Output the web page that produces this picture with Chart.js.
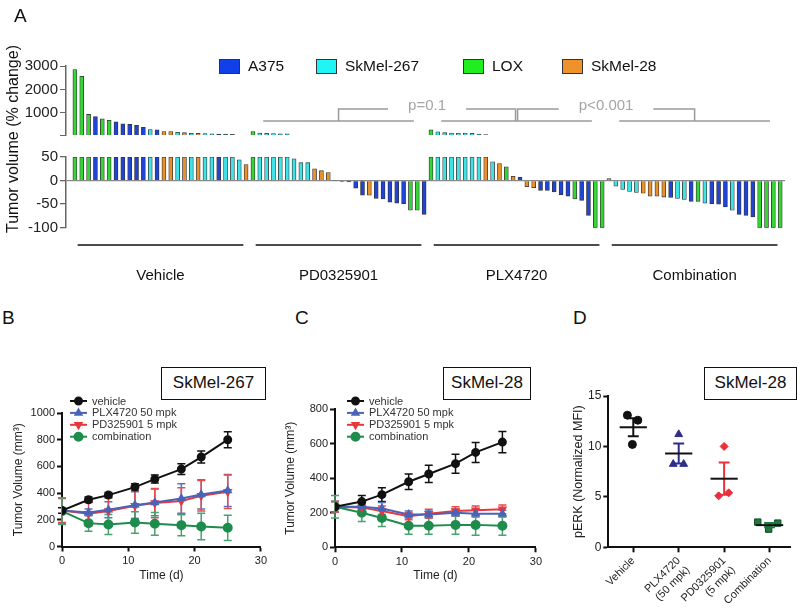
<!DOCTYPE html>
<html>
<head>
<meta charset="utf-8">
<script src="https://cdn.jsdelivr.net/npm/chart.js@4.4.0/dist/chart.umd.min.js"></script>
<style>
body { margin: 0; background: #fff; font-family: "Liberation Sans", Arial, sans-serif; color: #111; }
#wrap { position: relative; width: 800px; height: 613px; overflow: hidden; }
canvas { position: absolute; }
.letter { position: absolute; font-size: 19px; line-height: 19px; }
.box { position: absolute; border: 1.5px solid #111; box-sizing: border-box; font-size: 17px; text-align: center; line-height: 29px; height: 33px; background: #fff; }
.ytitle { position: absolute; transform: translate(-50%, -50%) rotate(-90deg); white-space: nowrap; font-size: 16px; }
.legA { position: absolute; top: 57px; font-size: 15.5px; display: flex; align-items: center; }
.legA span.sw { display: inline-block; width: 19px; height: 13px; border: 1px solid #333; margin-right: 8px; }
</style>
</head>
<body>
<div id="wrap">
  <canvas id="aTop" width="800" height="146" style="left:0;top:0"></canvas>
  <canvas id="aBot" width="800" height="154" style="left:0;top:146px"></canvas>
  <canvas id="b" width="270" height="233" style="left:0;top:380px"></canvas>
  <canvas id="c" width="280" height="233" style="left:265px;top:380px"></canvas>
  <canvas id="d" width="260" height="233" style="left:540px;top:380px"></canvas>

  <div class="letter" style="left:14px;top:6px">A</div>
  <div class="letter" style="left:2px;top:308px">B</div>
  <div class="letter" style="left:295px;top:308px">C</div>
  <div class="letter" style="left:573px;top:308px">D</div>
  <div class="ytitle" style="left:13px;top:139px">Tumor volume (% change)</div>
  <div id="legA"></div>
  <div class="box" style="left:161px;top:367px;width:105px">SkMel-267</div>
  <div class="box" style="left:443px;top:367px;width:88px">SkMel-28</div>
  <div class="box" style="left:704px;top:367px;width:93px">SkMel-28</div>
</div>
<script>
Chart.defaults.font.family = '"Liberation Sans", Arial, sans-serif';
Chart.defaults.color = '#111';
Chart.defaults.animation = false;

// ---- panel A: waterfall ----
const groups = ['Vehicle', 'PD0325901', 'PLX4720', 'Combination'];
const cellLines = ['A375', 'SkMel-267', 'LOX', 'SkMel-28'];
const cellColors = ['#1f44d6', '#3fe3e6', '#33d633', '#e8912c'];
const legendColors = ['#1240e8', '#20f4f4', '#20ee20', '#f0922a'];

// cell line of each tumour (index in cellLines)
const vehicleLine = [2,2,2,0,2,2,0,0,0,0,0,1,0,3,3,1,3,1,3,1,1,0,1,1,1,3];
const pdLine      = [2,1,1,1,1,1,1,1,1,3,3,3,1,0,0,0,0,3,0,0,0,0,0,2,2,0];
const plxLine     = [2,1,1,1,1,1,1,1,3,1,3,2,3,0,3,3,0,0,0,0,0,2,0,0,2,2];
const combLine    = [3,1,1,1,1,3,3,3,3,0,1,1,0,2,1,0,0,0,1,0,0,0,2,2,2,2];

// % change in tumour volume
const vehicleChange = [2850, 2560, 930, 840, 740, 680, 610, 530, 510, 460, 380, 280, 270, 200, 200, 165, 150, 125, 125, 115, 100, 90, 85, 80, 44, 34];
const pdChange      = [195, 130, 120, 110, 100, 100, 46, 38, 38, 25, 21, 17, 1, -2, -3, -16, -31, -31, -38, -39, -46, -48, -49, -63, -63, -72];
const plxChange     = [270, 190, 150, 130, 130, 130, 120, 90, 70, 40, 36, 29, 9, 7, -13, -15, -21, -21, -24, -30, -33, -39, -42, -74, -100, -100];
const combChange    = [4, -12, -19, -23, -25, -27, -33, -33, -35, -36, -38, -40, -44, -44, -48, -49, -50, -56, -63, -72, -74, -77, -100, -100, -100, -100];

const topTicks = [50, 1000, 2000, 3000];
const bottomTicks = [-100, -50, 0, 50];
const comparisons = [[1, 2, 'p=0.1'], [2, 3, 'p<0.001']];

// ---- panels B, C: growth curves ----
const days = [0, 4, 7, 11, 14, 18, 21, 25];
const treatments = ['vehicle', 'PLX4720 50 mpk', 'PD325901 5 mpk', 'combination'];

const vehicleB = [270, 350, 385, 445, 505, 580, 670, 800];
const vehicleBErr = [20, 20, 20, 25, 30, 40, 45, 60];
const plxB = [270, 255, 275, 310, 330, 360, 390, 420];
const plxBErr = [95, 25, 60, 100, 100, 110, 110, 120];
const pdB = [270, 245, 265, 305, 325, 340, 380, 410];
const pdBErr = [90, 90, 110, 110, 110, 100, 115, 125];
const combB = [265, 175, 165, 180, 170, 160, 150, 140];
const combBErr = [100, 60, 75, 80, 85, 80, 100, 95];

const vehicleC = [235, 265, 305, 380, 425, 485, 550, 610];
const vehicleCErr = [30, 35, 40, 45, 50, 55, 58, 62];
const plxC = [235, 235, 225, 190, 190, 200, 195, 195];
const plxCErr = [30, 25, 35, 20, 20, 20, 20, 20];
const pdC = [235, 230, 210, 180, 195, 210, 215, 220];
const pdCErr = [30, 30, 30, 20, 25, 25, 25, 25];
const combC = [235, 200, 170, 125, 125, 130, 130, 125];
const combCErr = [65, 50, 50, 50, 50, 55, 60, 55];

// ---- panel D: pERK ----
const dLabels = ['Vehicle', ['PLX4720', '(50 mpk)'], ['PD0325901', '(5 mpk)'], 'Combination'];
const dVehicle = [13.1, 12.6, 10.2];
const dPlx = [11.2, 8.25, 8.25];
const dPd = [10.0, 5.1, 5.4];
const dComb = [2.5, 1.8, 2.4];
const dJitter = [[-0.13, 0.1, -0.02], [0, -0.12, 0.11], [0, -0.12, 0.1], [-0.26, -0.02, 0.18]];
const dMeans = [11.9, 9.3, 6.8, 2.2];
const dSems = [0.9, 1.0, 1.6, 0.2];

// build panel A data
const allChange = vehicleChange.concat(pdChange, plxChange, combChange);
const allLine = vehicleLine.concat(pdLine, plxLine, combLine);
const perGroup = vehicleChange.length;
const barColors = allLine.map(i => cellColors[i]);

// legend A as html
const legendLeft = [219, 316, 463, 562];
const legA = document.getElementById('legA');
cellLines.forEach((name, i) => {
  const d = document.createElement('div');
  d.className = 'legA';
  d.style.left = legendLeft[i] + 'px';
  d.innerHTML = '<span class="sw" style="background:' + legendColors[i] + '"></span>' + name;
  legA.appendChild(d);
});

const bracketPlugin = {
  id: 'brackets',
  afterDraw(chart) {
    const { ctx } = chart;
    const x = chart.scales.x;
    const center = g => g * perGroup + 12.5;
    ctx.save();
    ctx.strokeStyle = '#9a9a9a';
    ctx.lineWidth = 1.5;
    ctx.font = '15px "Liberation Sans", Arial, sans-serif';
    ctx.fillStyle = '#a5a5a5';
    ctx.textAlign = 'center';
    ctx.textBaseline = 'middle';
    [1, 2, 3].forEach(g => {
      ctx.beginPath();
      ctx.moveTo(x.getPixelForValue(center(g) - 11), 121);
      ctx.lineTo(x.getPixelForValue(center(g) + 11), 121);
      ctx.stroke();
    });
    comparisons.forEach(([g1, g2, label], k) => {
      const x1 = x.getPixelForValue(center(g1)) + (k === 1 ? 1 : 0);
      const x2 = x.getPixelForValue(center(g2)) - (k === 0 ? 1 : 0);
      const mid = (x1 + x2) / 2;
      const half = ctx.measureText(label).width / 2 + 20;
      ctx.beginPath();
      ctx.moveTo(x1, 121); ctx.lineTo(x1, 109); ctx.lineTo(mid - half, 109);
      ctx.moveTo(mid + half, 109); ctx.lineTo(x2, 109); ctx.lineTo(x2, 121);
      ctx.stroke();
      ctx.fillText(label, mid, 106);
    });
    ctx.restore();
  }
};

const groupPlugin = {
  id: 'groupLabels',
  afterDraw(chart) {
    const { ctx } = chart;
    const x = chart.scales.x;
    ctx.save();
    ctx.strokeStyle = '#111';
    ctx.lineWidth = 1.5;
    ctx.fillStyle = '#111';
    ctx.font = '15px "Liberation Sans", Arial, sans-serif';
    ctx.textAlign = 'center';
    ctx.textBaseline = 'middle';
    groups.forEach((g, i) => {
      const x0 = x.getPixelForValue(i * perGroup + 0.4);
      const x1 = x.getPixelForValue(i * perGroup + 24.6);
      ctx.beginPath(); ctx.moveTo(x0, 99); ctx.lineTo(x1, 99); ctx.stroke();
      ctx.fillText(g, (x0 + x1) / 2, 130);
    });
    ctx.restore();
  }
};

const yAxisA = (ticks) => ({
  afterFit: s => { s.width = 66; },
  afterBuildTicks: s => { s.ticks = ticks.map(v => ({ value: v })); },
  ticks: { font: { size: 15 }, color: '#222', padding: 2, callback: v => (v === 50 && ticks === topTicks) ? '' : String(v) },
  border: { color: '#666', width: 1.5 },
});

const xAxisA = { type: 'linear', min: -1.3, max: 103.7, display: false, offset: false, grid: { offset: false } };

new Chart(document.getElementById('aTop'), {
  type: 'bar',
  data: { datasets: [{
    data: allChange.map((v, i) => ({ x: i, y: v > 50 ? v : null })),
    backgroundColor: barColors, borderColor: '#333', borderWidth: 0.8, barThickness: 4
  }] },
  options: {
    responsive: false,
    layout: { padding: { top: 66, bottom: 3, right: 15, left: 0 } },
    plugins: { legend: { display: false }, tooltip: { enabled: false } },
    scales: {
      x: xAxisA,
      y: Object.assign({ min: 50, max: 3000, grid: { drawOnChartArea: false, tickLength: 6, tickColor: '#666' } }, yAxisA(topTicks))
    }
  },
  plugins: [bracketPlugin]
});

new Chart(document.getElementById('aBot'), {
  type: 'bar',
  data: { datasets: [{
    data: allChange.map((v, i) => ({ x: i, y: Math.max(-100, Math.min(50, v)) })),
    backgroundColor: barColors, borderColor: '#333', borderWidth: 0.8, barThickness: 4
  }] },
  options: {
    responsive: false,
    layout: { padding: { top: 5.5, bottom: 72.3, right: 15, left: 0 } },
    plugins: { legend: { display: false }, tooltip: { enabled: false } },
    scales: {
      x: xAxisA,
      y: Object.assign({ min: -100, max: 50, grid: {
        color: c => (c.tick && c.tick.value === 0) ? '#8a8a8a' : 'rgba(0,0,0,0)',
        lineWidth: 1.3, tickLength: 6, tickColor: '#666' } }, yAxisA(bottomTicks))
    }
  },
  plugins: [groupPlugin]
});

// ---- growth curve charts ----
const seriesStyle = [
  { color: '#111', err: '#111', pointStyle: 'circle', radius: 3.5, rotation: 0 },
  { color: '#4a63b8', err: '#5a72c0', pointStyle: 'triangle', radius: 3.5, rotation: 0 },
  { color: '#e8383a', err: '#ec4a4a', pointStyle: 'triangle', radius: 3.5, rotation: 180 },
  { color: '#1d8c4c', err: '#4aa070', pointStyle: 'circle', radius: 4, rotation: 0 }
];

const errorBars = {
  id: 'errorBars',
  beforeDatasetsDraw(chart) {
    const { ctx } = chart;
    const x = chart.scales.x, y = chart.scales.y;
    ctx.save();
    ctx.lineWidth = 1.5;
    chart.data.datasets.forEach(ds => {
      ctx.strokeStyle = ds.errColor;
      ds.data.forEach((p, i) => {
        const e = ds.errors[i];
        const px = x.getPixelForValue(p.x);
        const top = y.getPixelForValue(p.y + e), bot = y.getPixelForValue(Math.max(0, p.y - e));
        ctx.beginPath();
        ctx.moveTo(px, top); ctx.lineTo(px, bot);
        ctx.moveTo(px - 4, top); ctx.lineTo(px + 4, top);
        ctx.moveTo(px - 4, bot); ctx.lineTo(px + 4, bot);
        ctx.stroke();
      });
    });
    ctx.restore();
  }
};

const lineLegend = {
  id: 'lineLegend',
  afterDraw(chart, args, opts) {
    const { ctx, chartArea } = chart;
    ctx.save();
    ctx.font = '11px "Liberation Sans", Arial, sans-serif';
    ctx.textBaseline = 'middle';
    chart.data.datasets.forEach((ds, i) => {
      const yy = chartArea.top + opts.dy + i * 11.9;
      const x0 = chartArea.left + opts.dx;
      ctx.strokeStyle = ds.borderColor;
      ctx.lineWidth = 2;
      ctx.beginPath(); ctx.moveTo(x0, yy); ctx.lineTo(x0 + 17, yy); ctx.stroke();
      ctx.fillStyle = ds.borderColor;
      Chart.helpers.drawPoint(ctx, { pointStyle: ds.pointStyle, radius: ds.pointRadius, rotation: ds.rotation, borderWidth: 1 }, x0 + 8.5, yy);
      ctx.fillStyle = '#333';
      ctx.fillText(treatments[i], x0 + 22, yy + 0.5);
    });
    ctx.restore();
  }
};

function growthChart(id, series, errs, yMax, pad, legendPos, titlePad) {
  return new Chart(document.getElementById(id), {
    type: 'line',
    data: { datasets: series.map((vals, k) => ({
      label: treatments[k],
      data: vals.map((v, i) => ({ x: days[i], y: v })),
      errors: errs[k],
      errColor: seriesStyle[k].err,
      borderColor: seriesStyle[k].color,
      backgroundColor: seriesStyle[k].color,
      pointStyle: seriesStyle[k].pointStyle,
      pointRadius: seriesStyle[k].radius,
      rotation: seriesStyle[k].rotation,
      borderWidth: 2,
      tension: 0
    })) },
    options: {
      responsive: false,
      layout: { padding: pad },
      plugins: { legend: { display: false }, tooltip: { enabled: false }, lineLegend: legendPos },
      scales: {
        x: { type: 'linear', min: 0, max: 30,
          afterFit: s => { s.height = 40; },
          ticks: { stepSize: 10, font: { size: 11 }, color: '#222', padding: 3 },
          grid: { drawOnChartArea: false, tickLength: 5, tickColor: '#111', tickWidth: 2 },
          border: { color: '#111', width: 2 },
          title: { display: true, text: 'Time (d)', font: { size: 12 }, color: '#222', padding: { top: 2, bottom: 4 } } },
        y: { min: 0, max: yMax,
          afterFit: s => { s.width = pad.axisW; },
          ticks: { stepSize: 200, font: { size: 11 }, color: '#222', padding: 2, callback: v => String(v) },
          grid: { drawOnChartArea: false, tickLength: 5, tickColor: '#111', tickWidth: 2 },
          border: { color: '#111', width: 2 },
          title: { display: true, text: 'Tumor Volume (mm³)', font: { size: 12 }, color: '#222', padding: { top: titlePad, bottom: 4 } } }
      }
    },
    plugins: [errorBars, lineLegend]
  });
}

growthChart('b', [vehicleB, plxB, pdB, combB], [vehicleBErr, plxBErr, pdBErr, combBErr], 1000,
  { top: 33, bottom: 26.5, left: 0, right: 8, axisW: 62 }, { dx: 8, dy: -12 }, 11);
growthChart('c', [vehicleC, plxC, pdC, combC], [vehicleCErr, plxCErr, pdCErr, combCErr], 800,
  { top: 29.3, bottom: 25.7, left: 0, right: 3, axisW: 70 }, { dx: 12, dy: -8.3 }, 18);

// ---- panel D ----
const dStyle = [
  { color: '#111', pointStyle: 'circle', radius: 4 },
  { color: '#2c2e8c', pointStyle: 'triangle', radius: 4.5 },
  { color: '#e8303a', pointStyle: 'rectRot', radius: 4 },
  { color: '#1e7a40', pointStyle: 'rect', radius: 4.5 }
];

const meanSem = {
  id: 'meanSem',
  afterDatasetsDraw(chart) {
    const { ctx } = chart;
    const x = chart.scales.x, y = chart.scales.y;
    ctx.save();
    ctx.lineWidth = 2;
    dMeans.forEach((m, i) => {
      const ym = y.getPixelForValue(m);
      const yt = y.getPixelForValue(m + dSems[i]), yb = y.getPixelForValue(m - dSems[i]);
      const xc = x.getPixelForValue(i);
      ctx.strokeStyle = dStyle[i].color;
      ctx.beginPath();
      ctx.moveTo(xc, yt); ctx.lineTo(xc, yb);
      ctx.moveTo(x.getPixelForValue(i - 0.12), yt); ctx.lineTo(x.getPixelForValue(i + 0.12), yt);
      ctx.moveTo(x.getPixelForValue(i - 0.12), yb); ctx.lineTo(x.getPixelForValue(i + 0.12), yb);
      ctx.stroke();
      ctx.strokeStyle = '#111';
      ctx.beginPath();
      ctx.moveTo(x.getPixelForValue(i - 0.3), ym); ctx.lineTo(x.getPixelForValue(i + 0.3), ym);
      ctx.stroke();
    });
    ctx.restore();
  }
};

new Chart(document.getElementById('d'), {
  type: 'scatter',
  data: { datasets: [dVehicle, dPlx, dPd, dComb].map((pts, i) => ({
    data: pts.map((v, j) => ({ x: i + dJitter[i][j], y: v })),
    pointStyle: dStyle[i].pointStyle,
    pointRadius: dStyle[i].radius,
    backgroundColor: dStyle[i].color,
    borderColor: i === 3 ? '#0e4a24' : dStyle[i].color,
    borderWidth: 1
  })) },
  options: {
    responsive: false,
    layout: { padding: { top: 16, bottom: 0, left: 0, right: 10 } },
    plugins: { legend: { display: false }, tooltip: { enabled: false } },
    scales: {
      x: { type: 'linear', min: -0.55, max: 3.45,
        afterFit: s => { s.height = 65.7; },
        afterBuildTicks: s => { s.ticks = dLabels.map((l, i) => ({ value: i })); },
        ticks: { minRotation: 45, maxRotation: 45, autoSkip: false, font: { size: 11 }, color: '#222', padding: 2,
          callback: v => dLabels[v] },
        grid: { drawOnChartArea: false, tickLength: 5, tickColor: '#111', tickWidth: 2 },
        border: { color: '#111', width: 2 } },
      y: { min: 0, max: 15,
        afterFit: s => { s.width = 68.3; },
        ticks: { stepSize: 5, font: { size: 12 }, color: '#222', padding: 2 },
        grid: { drawOnChartArea: false, tickLength: 5, tickColor: '#111', tickWidth: 2 },
        border: { color: '#111', width: 2 },
        title: { display: true, text: 'pERK (Normalized MFI)', font: { size: 12.5 }, color: '#222', padding: { top: 31, bottom: 4 } } }
    }
  },
  plugins: [meanSem]
});
</script>
</body>
</html>
